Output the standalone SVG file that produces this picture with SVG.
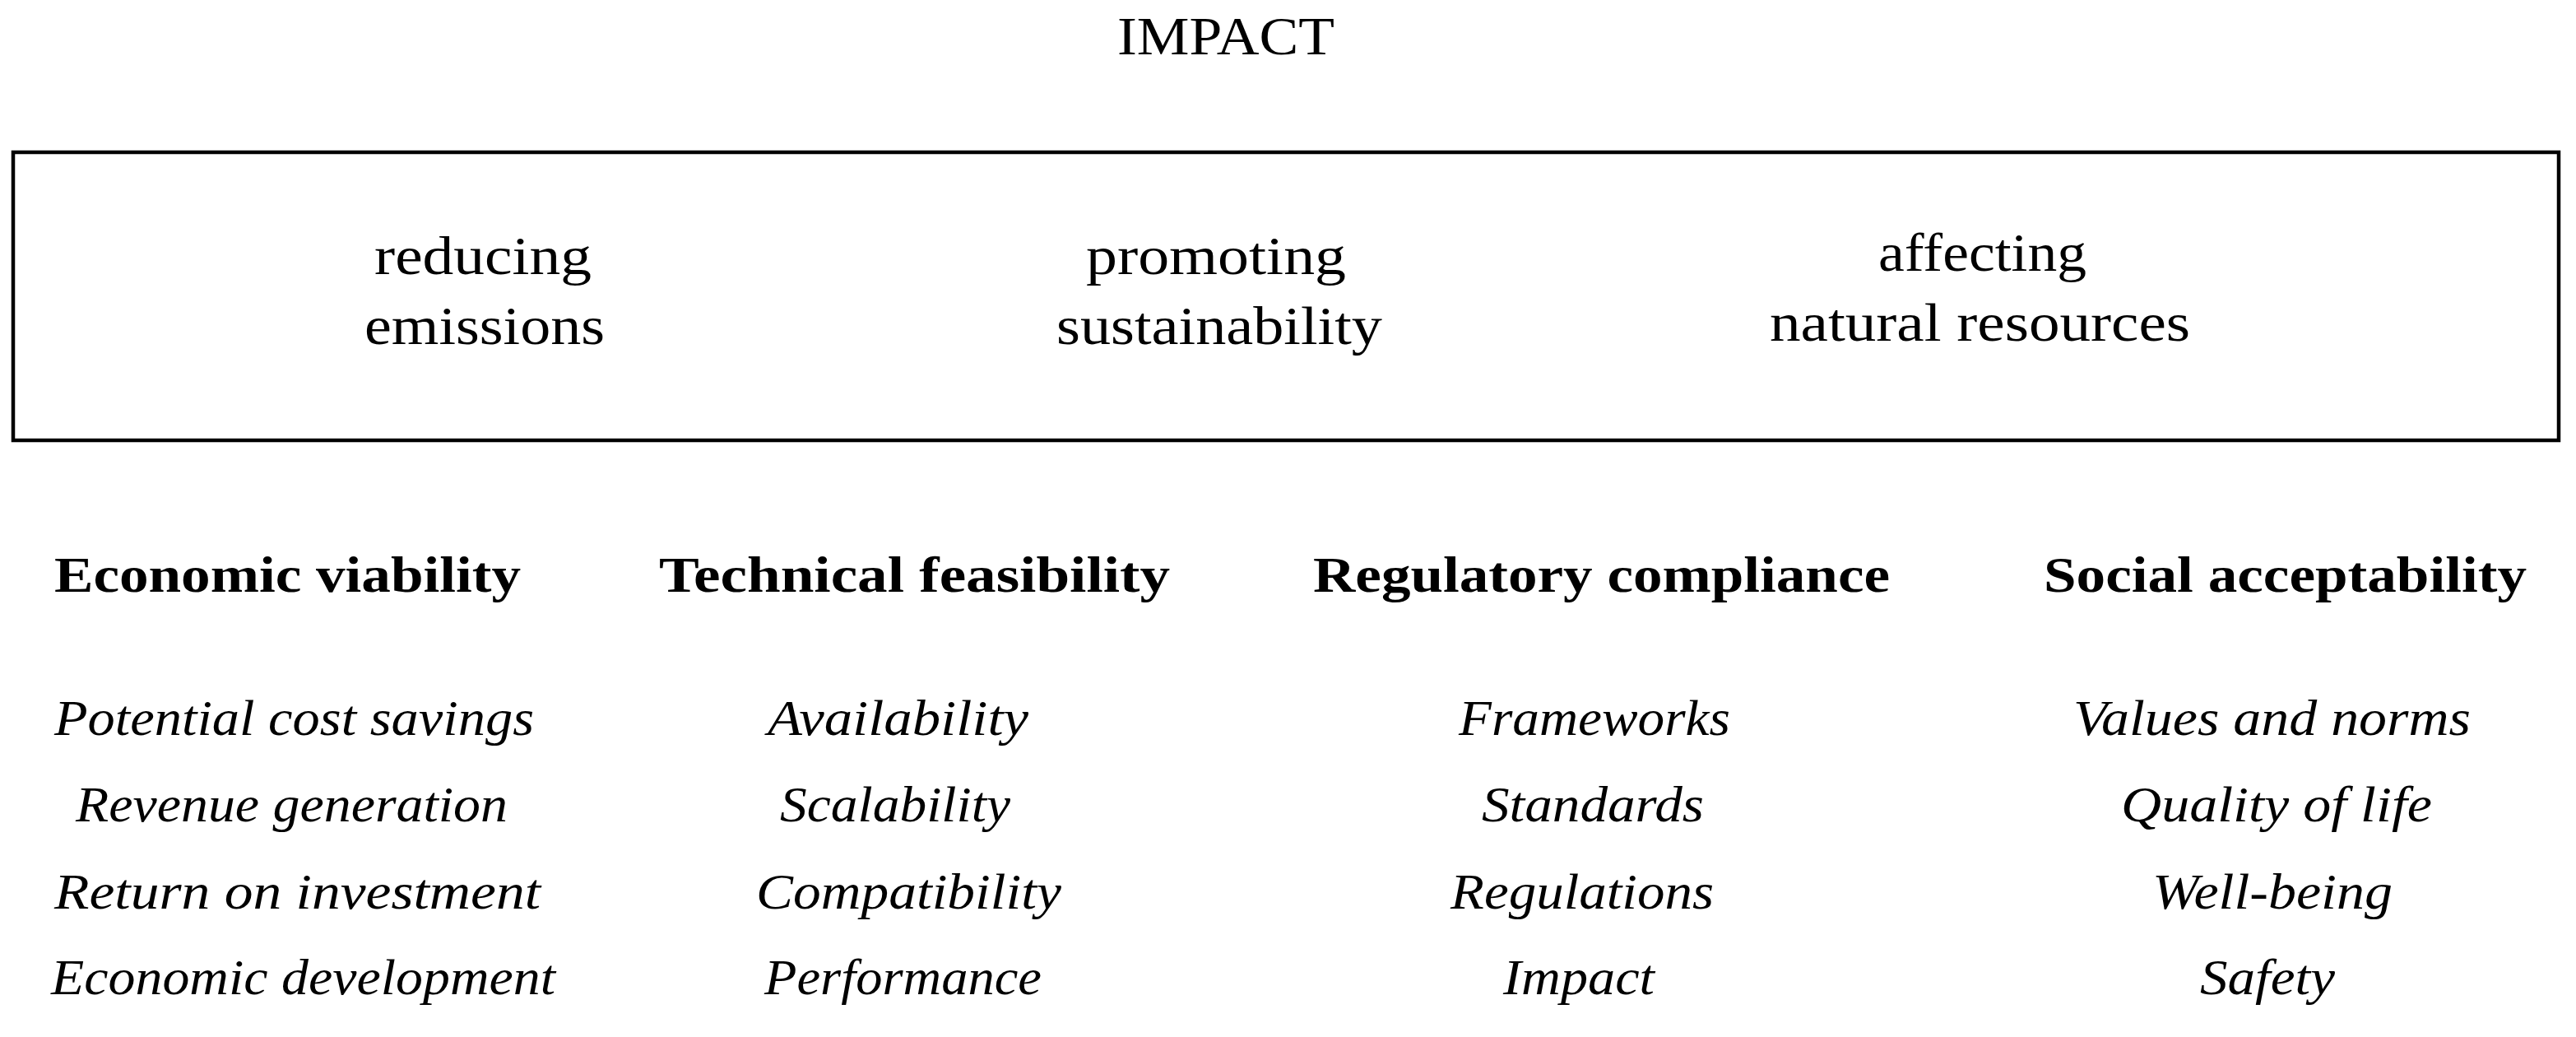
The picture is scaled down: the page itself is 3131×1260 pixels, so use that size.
<svg xmlns="http://www.w3.org/2000/svg" width="3131" height="1260" viewBox="0 0 3131 1260">
<style>
text { font-family: "Liberation Serif", "DejaVu Serif", serif; fill: #000; }
.t { font-size: 66px; }
.h { font-size: 62px; font-weight: bold; }
.i { font-size: 62px; font-style: italic; }
.box { fill: #fff; stroke: #000; stroke-width: 4.5; }
</style>
<rect width="3131" height="1260" fill="#fff"/>
<g id="title"><text class="t" x="1358" y="66" textLength="264" lengthAdjust="spacingAndGlyphs">IMPACT</text></g>
<g id="impact-box">
<rect class="box" x="16" y="185" width="3094" height="350"/>
<text class="t" x="455" y="333" textLength="264" lengthAdjust="spacingAndGlyphs">reducing</text>
<text class="t" x="443" y="418" textLength="292" lengthAdjust="spacingAndGlyphs">emissions</text>
<text class="t" x="1320" y="333" textLength="316" lengthAdjust="spacingAndGlyphs">promoting</text>
<text class="t" x="1284" y="418" textLength="396" lengthAdjust="spacingAndGlyphs">sustainability</text>
<text class="t" x="2283" y="329" textLength="253" lengthAdjust="spacingAndGlyphs">affecting</text>
<text class="t" x="2151" y="414" textLength="511" lengthAdjust="spacingAndGlyphs">natural resources</text>
</g>
<g id="economic">
<text class="h" x="66" y="719" textLength="567" lengthAdjust="spacingAndGlyphs">Economic viability</text>
<text class="i" x="66" y="893" textLength="583" lengthAdjust="spacingAndGlyphs">Potential cost savings</text>
<text class="i" x="92" y="998" textLength="525" lengthAdjust="spacingAndGlyphs">Revenue generation</text>
<text class="i" x="66" y="1104" textLength="591" lengthAdjust="spacingAndGlyphs">Return on investment</text>
<text class="i" x="62" y="1208" textLength="613" lengthAdjust="spacingAndGlyphs">Economic development</text>
</g>
<g id="technical">
<text class="h" x="801" y="719" textLength="621" lengthAdjust="spacingAndGlyphs">Technical feasibility</text>
<text class="i" x="933" y="893" textLength="317" lengthAdjust="spacingAndGlyphs">Availability</text>
<text class="i" x="948" y="998" textLength="280" lengthAdjust="spacingAndGlyphs">Scalability</text>
<text class="i" x="919" y="1104" textLength="371" lengthAdjust="spacingAndGlyphs">Compatibility</text>
<text class="i" x="929" y="1208" textLength="337" lengthAdjust="spacingAndGlyphs">Performance</text>
</g>
<g id="regulatory">
<text class="h" x="1596" y="719" textLength="701" lengthAdjust="spacingAndGlyphs">Regulatory compliance</text>
<text class="i" x="1773" y="893" textLength="330" lengthAdjust="spacingAndGlyphs">Frameworks</text>
<text class="i" x="1801" y="998" textLength="270" lengthAdjust="spacingAndGlyphs">Standards</text>
<text class="i" x="1763" y="1104" textLength="320" lengthAdjust="spacingAndGlyphs">Regulations</text>
<text class="i" x="1827" y="1208" textLength="184" lengthAdjust="spacingAndGlyphs">Impact</text>
</g>
<g id="social">
<text class="h" x="2484" y="719" textLength="587" lengthAdjust="spacingAndGlyphs">Social acceptability</text>
<text class="i" x="2520" y="893" textLength="483" lengthAdjust="spacingAndGlyphs">Values and norms</text>
<text class="i" x="2578" y="998" textLength="378" lengthAdjust="spacingAndGlyphs">Quality of life</text>
<text class="i" x="2616" y="1104" textLength="292" lengthAdjust="spacingAndGlyphs">Well-being</text>
<text class="i" x="2674" y="1208" textLength="164" lengthAdjust="spacingAndGlyphs">Safety</text>
</g>
<g id="connectors"></g>
</svg>
